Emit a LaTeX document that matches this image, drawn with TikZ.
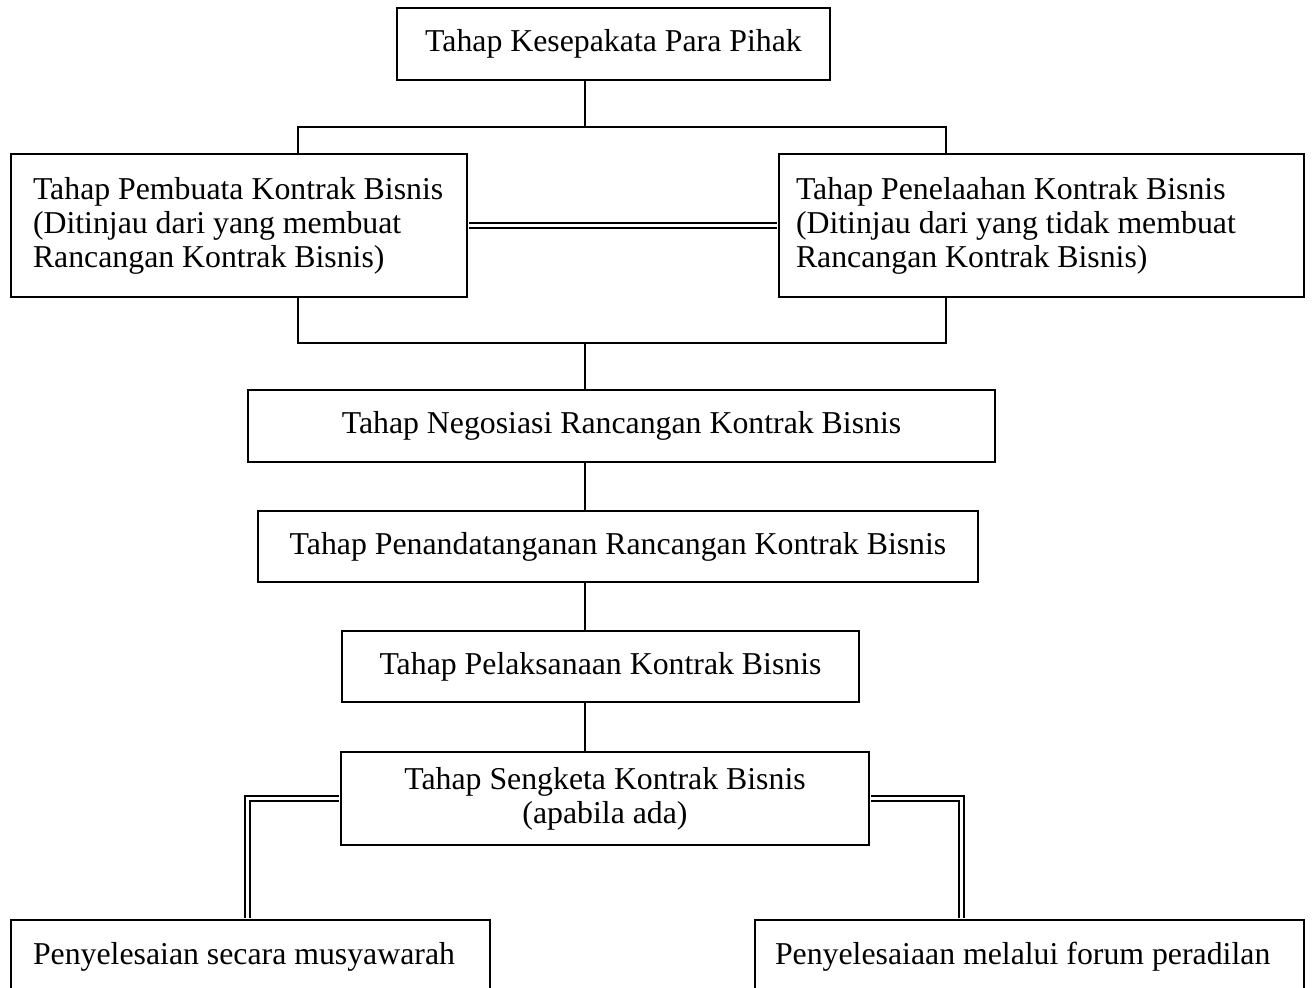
\documentclass[tikz,border=0pt]{standalone}
\usepackage{fontspec}
\setmainfont{Liberation Serif}
\usetikzlibrary{positioning}
\tikzset{
  box/.style={draw, line width=1pt, inner sep=0pt, font=\fontsize{15.9pt}{17pt}\selectfont},
  leftbox/.style={box, anchor=north west, align=flush left},
  link/.style={line width=1pt},
  dlink/.style={double, double distance=1.5pt, line width=1pt, shorten <=0.5pt, shorten >=0.5pt},
}
\begin{document}
\begin{tikzpicture}[x=0.5pt,y=-0.5pt]
\useasboundingbox (0,0) rectangle (1313,988);
% stages
\node[box, minimum width=216.5pt, minimum height=36pt] (agree) at (613.5,44) {Tahap Kesepakata Para Pihak};
\node[leftbox, minimum height=71.5pt, text width=228pt] (draft) at (10,153)
  {\leftskip=11pt Tahap Pembuata Kontrak Bisnis\\(Ditinjau dari yang membuat\\Rancangan Kontrak Bisnis)\par};
\node[leftbox, minimum height=71.5pt, text width=262.5pt] (review) at (778,153)
  {\leftskip=8.5pt Tahap Penelaahan Kontrak Bisnis\\(Ditinjau dari yang tidak membuat\\Rancangan Kontrak Bisnis)\par};
\node[box, minimum width=373.5pt, minimum height=36pt] (nego) at (621.5,426) {Tahap Negosiasi Rancangan Kontrak Bisnis};
\node[box, minimum width=360pt, minimum height=35.5pt] (sign) at (618,546.5) {Tahap Penandatanganan Rancangan Kontrak Bisnis};
\node[box, minimum width=258.5pt, minimum height=35.5pt] (exec) at (600.5,666.5) {Tahap Pelaksanaan Kontrak Bisnis};
\node[box, minimum width=264pt, minimum height=46.5pt, align=center] (dispute) at (605,798.5)
  {Tahap Sengketa Kontrak Bisnis\\(apabila ada)};
\node[leftbox, minimum height=37pt, text width=239.5pt] (amicable) at (10,919)
  {\leftskip=11pt Penyelesaian secara musyawarah\par};
\node[leftbox, minimum height=37pt, text width=274.5pt] (court) at (754,919)
  {\leftskip=10pt Penyelesaiaan melalui forum peradilan\par};
% connectors
\coordinate (spine) at (585,0);
\coordinate (ltop) at (298,127);
\coordinate (rtop) at (946,127);
\coordinate (lbot) at (298,343);
\coordinate (rbot) at (946,343);
\coordinate (lturn) at (247.5,0);
\coordinate (rturn) at (961.5,0);
\draw[link] (agree.south -| spine) -- (spine |- ltop);
\draw[link] (draft.north -| ltop) -- (ltop) -- (rtop) -- (review.north -| rtop);
\draw[dlink] (draft.east) -- (review.west);
\draw[link] (draft.south -| lbot) -- (lbot) -- (rbot) -- (review.south -| rbot);
\draw[link] (spine |- lbot) -- (nego.north -| spine);
\foreach \a/\b in {nego/sign,sign/exec,exec/dispute}
  \draw[link] (\a.south -| spine) -- (\b.north -| spine);
\draw[dlink] (dispute.west) -| (amicable.north -| lturn);
\draw[dlink] (dispute.east) -| (court.north -| rturn);
\end{tikzpicture}
\end{document}
